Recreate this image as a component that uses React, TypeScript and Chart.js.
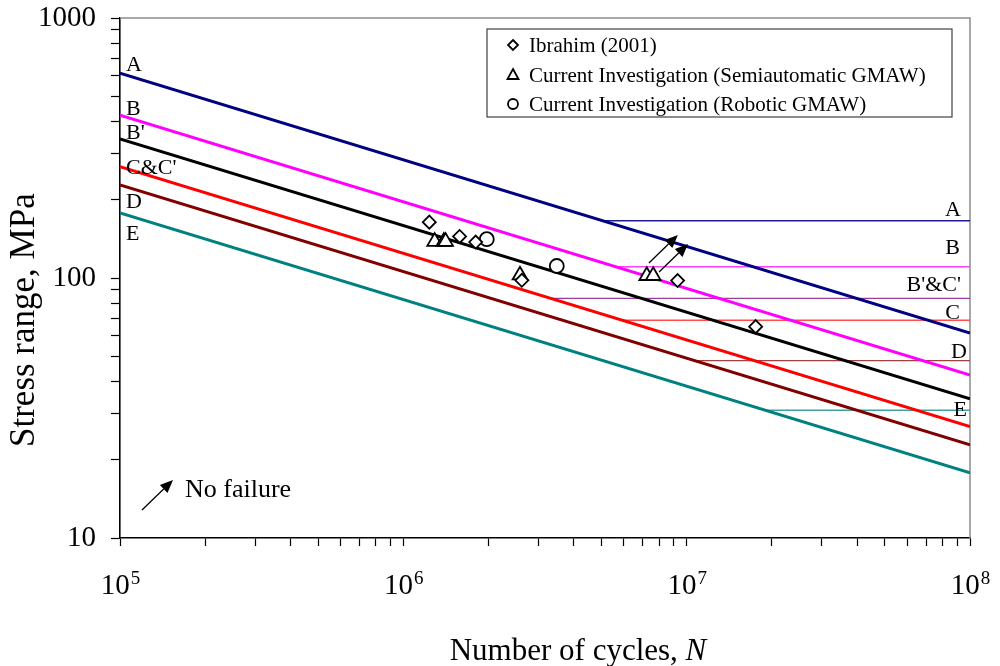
import React, { useEffect, useRef } from 'react';
import { Chart, registerables } from 'chart.js';

Chart.register(...registerables);

const FONT = '"Liberation Serif", "Times New Roman", serif';

// Design curves: stress range (MPa) at N = 1e5 and at N = 1e8
const curveNames = ['A', 'B', "B'", "C&C'", 'D', 'E'];
const curveStartN = 1e5;
const curveEndN = 1e8;
const curveStartS = [614, 423, 343, 268, 228, 178];
const curveEndS = [61.4, 42.3, 34.3, 26.8, 22.8, 17.8];
const curveColors = ['#000080', '#ff00ff', '#000000', '#ff0000', '#800000', '#008080'];

// Constant amplitude fatigue thresholds
const thresholdNames = ['A', 'B', "B'&C'", 'C', 'D', 'E'];
const thresholdStartN = [5.05e6, 5.7e6, 3.3e6, 5.9e6, 1.08e7, 1.9e7];
const thresholdS = [166, 110.5, 83.5, 68.8, 48.1, 31];
const thresholdColors = ['#1c1c8c', '#ff40ff', '#9c3c9c', '#ff4c4c', '#a04040', '#40a0a0'];

// Test data
const ibrahimN = [1.235e6, 1.58e6, 1.8e6, 2.62e6, 9.29e6, 1.752e7];
const ibrahimS = [164, 144.5, 137.5, 98, 97.8, 65];
const semiN = [1.29e6, 1.39e6, 1.41e6, 2.58e6, 7.23e6, 7.62e6];
const semiS = [138, 138, 138, 102.5, 102, 102];
const roboticN = [1.97e6, 3.48e6];
const roboticS = [141, 111.2];

// Run-out (no failure) arrows
const arrowFromN = [7.36e6, 7.99e6];
const arrowFromS = [114.2, 105.4];
const arrowToN = [9.31e6, 1.011e7];
const arrowToS = [146.3, 135.1];

// Axes
const xMajorTicks = [1e5, 1e6, 1e7, 1e8];
const xTickExponents = ['5', '6', '7', '8'];
const yMajorTicks = [10, 100, 1000];
const yTickLabels = ['10', '100', '1000'];

const legendLabels = [
  'Ibrahim (2001)',
  'Current Investigation (Semiautomatic GMAW)',
  'Current Investigation (Robotic GMAW)',
];

function withMinors(majors: number[]) {
  const out: number[] = [];
  for (let i = 0; i < majors.length; i++) {
    out.push(majors[i]);
    if (i < majors.length - 1) {
      for (let k = 2; k <= 9; k++) out.push(majors[i] * k);
    }
  }
  return out;
}

function drawArrow(ctx: CanvasRenderingContext2D, x1: number, y1: number, x2: number, y2: number, head: number, half: number, lw: number) {
  const ang = Math.atan2(y2 - y1, x2 - x1);
  const bx = x2 - Math.cos(ang) * head;
  const by = y2 - Math.sin(ang) * head;
  ctx.lineWidth = lw;
  ctx.strokeStyle = '#000';
  ctx.fillStyle = '#000';
  ctx.beginPath();
  ctx.moveTo(x1, y1);
  ctx.lineTo(bx, by);
  ctx.stroke();
  ctx.beginPath();
  ctx.moveTo(x2, y2);
  ctx.lineTo(bx + Math.sin(ang) * half, by - Math.cos(ang) * half);
  ctx.lineTo(bx - Math.sin(ang) * half, by + Math.cos(ang) * half);
  ctx.closePath();
  ctx.fill();
}

const leftLabelDy = [-2, 0, 0, 7, 23, 27];
const rightLabelDx = [9, 10, 9, 10, 3, 3];
const rightLabelDy = [-5, -12.5, -7, -1.5, -2.5, 6];

const annotPlugin = {
  id: 'annot',
  beforeDatasetsDraw(chart: any) {
    const { ctx, chartArea: ca } = chart;
    ctx.save();
    ctx.strokeStyle = '#8c8c8c';
    ctx.lineWidth = 1.5;
    ctx.beginPath();
    ctx.moveTo(ca.left, ca.top);
    ctx.lineTo(ca.right, ca.top);
    ctx.lineTo(ca.right, ca.bottom);
    ctx.stroke();
    ctx.restore();
  },
  afterDatasetsDraw(chart: any) {
    const { ctx, chartArea: ca, scales } = chart;
    const xs = scales.x;
    const ys = scales.y;
    ctx.save();
    ctx.fillStyle = '#000';

    // curve labels at left
    ctx.font = `22px ${FONT}`;
    ctx.textBaseline = 'alphabetic';
    ctx.textAlign = 'left';
    curveNames.forEach((n, i) => {
      const px = xs.getPixelForValue(curveStartN) + 6;
      const py = ys.getPixelForValue(curveStartS[i]) + leftLabelDy[i];
      ctx.fillText(n, px, py);
    });
    // threshold labels at right
    ctx.textAlign = 'right';
    thresholdNames.forEach((n, i) => {
      const px = ca.right - rightLabelDx[i];
      const py = ys.getPixelForValue(thresholdS[i]) + rightLabelDy[i];
      ctx.fillText(n, px, py);
    });

    // run-out arrows
    for (let i = 0; i < arrowFromN.length; i++) {
      drawArrow(
        ctx,
        xs.getPixelForValue(arrowFromN[i]), ys.getPixelForValue(arrowFromS[i]),
        xs.getPixelForValue(arrowToN[i]), ys.getPixelForValue(arrowToS[i]),
        13, 5.5, 1.3
      );
    }

    // "No failure" key
    drawArrow(ctx, ca.left + 22, ca.bottom - 28, ca.left + 53, ca.bottom - 58, 13, 5.5, 1.3);
    ctx.font = `26px ${FONT}`;
    ctx.textAlign = 'left';
    ctx.fillText('No failure', ca.left + 65, ca.bottom - 41);

    // legend box
    const lx = 487, ly = 29, lw = 465, lh = 88;
    ctx.fillStyle = '#fff';
    ctx.fillRect(lx, ly, lw, lh);
    ctx.strokeStyle = '#404040';
    ctx.lineWidth = 1.2;
    ctx.strokeRect(lx, ly, lw, lh);
    const rowBase = [52, 82, 111];
    ctx.font = `21px ${FONT}`;
    ctx.textAlign = 'left';
    legendLabels.forEach((t, i) => {
      const mx = 513;
      const my = rowBase[i] - 7;
      ctx.strokeStyle = '#000';
      ctx.lineWidth = 1.8;
      ctx.beginPath();
      if (i === 0) {
        ctx.moveTo(mx, my - 5); ctx.lineTo(mx + 5, my); ctx.lineTo(mx, my + 5); ctx.lineTo(mx - 5, my); ctx.closePath();
      } else if (i === 1) {
        ctx.moveTo(mx, my - 6); ctx.lineTo(mx + 5.5, my + 4); ctx.lineTo(mx - 5.5, my + 4); ctx.closePath();
      } else {
        ctx.arc(mx, my, 5, 0, Math.PI * 2);
      }
      ctx.stroke();
      ctx.fillStyle = '#000';
      ctx.fillText(t, 529, rowBase[i]);
    });

    // x tick labels with superscript exponents
    xMajorTicks.forEach((v, i) => {
      const px = xs.getPixelForValue(v);
      ctx.font = `29px ${FONT}`;
      const w1 = ctx.measureText('10').width;
      ctx.font = `19px ${FONT}`;
      const w2 = ctx.measureText(xTickExponents[i]).width;
      const start = px - (w1 + w2) / 2;
      ctx.font = `29px ${FONT}`;
      ctx.fillText('10', start, 594);
      ctx.font = `19px ${FONT}`;
      ctx.fillText(xTickExponents[i], start + w1 + 1, 584);
    });

    // axis titles
    ctx.font = `31px ${FONT}`;
    const t1 = 'Number of cycles, ';
    const w1 = ctx.measureText(t1).width;
    ctx.font = `italic 31px ${FONT}`;
    const w2 = ctx.measureText('N').width;
    const cx = 578;
    ctx.font = `31px ${FONT}`;
    ctx.fillText(t1, cx - (w1 + w2) / 2, 660);
    ctx.font = `italic 31px ${FONT}`;
    ctx.fillText('N', cx - (w1 + w2) / 2 + w1, 660);

    ctx.save();
    ctx.translate(34, 447);
    ctx.rotate(-Math.PI / 2);
    ctx.font = `35px ${FONT}`;
    ctx.textAlign = 'left';
    ctx.fillText('Stress range, MPa', 0, 0);
    ctx.restore();

    ctx.restore();
  },
};

export default function App() {
  const ref = useRef<HTMLCanvasElement>(null);
  useEffect(() => {
    if (!ref.current) return;
    const markerBase = { borderColor: '#000', backgroundColor: '#fff', borderWidth: 1.8, showLine: false };
    const datasets: any[] = [
      { ...markerBase, label: legendLabels[0], data: ibrahimN.map((n, i) => ({ x: n, y: ibrahimS[i] })), pointStyle: 'rectRot', pointRadius: 6.5 },
      { ...markerBase, label: legendLabels[1], data: semiN.map((n, i) => ({ x: n, y: semiS[i] })), pointStyle: 'triangle', pointRadius: 8.5 },
      { ...markerBase, label: legendLabels[2], data: roboticN.map((n, i) => ({ x: n, y: roboticS[i] })), pointStyle: 'circle', pointRadius: 7 },
    ];
    curveNames.forEach((n, i) => {
      datasets.push({
        label: n,
        data: [{ x: curveStartN, y: curveStartS[i] }, { x: curveEndN, y: curveEndS[i] }],
        showLine: true, borderColor: curveColors[i], borderWidth: 3, pointRadius: 0, fill: false,
      });
    });
    thresholdNames.forEach((n, i) => {
      datasets.push({
        label: 'CAFL ' + n,
        data: [{ x: thresholdStartN[i], y: thresholdS[i] }, { x: curveEndN, y: thresholdS[i] }],
        showLine: true, borderColor: thresholdColors[i], borderWidth: 1.3, pointRadius: 0, fill: false,
      });
    });

    const chart = new Chart(ref.current, {
      type: 'scatter',
      data: { datasets },
      options: {
        animation: false,
        responsive: false,
        devicePixelRatio: 1,
        layout: { padding: { top: 18, right: 30, left: 0, bottom: 0 } },
        plugins: { legend: { display: false }, tooltip: { enabled: false } },
        scales: {
          x: {
            type: 'logarithmic',
            min: 1e5,
            max: 1e8,
            position: 'bottom',
            afterBuildTicks: (s: any) => { s.ticks = withMinors(xMajorTicks).map((v) => ({ value: v })); },
            afterFit: (s: any) => { s.height = 128; s.paddingLeft = 0; s.paddingRight = 0; s.paddingTop = 0; s.paddingBottom = 0; },
            ticks: { display: false },
            grid: { drawOnChartArea: false, drawTicks: true, tickLength: 8, tickColor: '#000', tickWidth: 1.2 },
            border: { color: '#000', width: 1.6 },
          },
          y: {
            type: 'logarithmic',
            min: 10,
            max: 1000,
            position: 'left',
            afterBuildTicks: (s: any) => { s.ticks = withMinors(yMajorTicks).map((v) => ({ value: v })); },
            afterFit: (s: any) => { s.width = 120; s.paddingTop = 0; s.paddingBottom = 0; s.paddingLeft = 0; s.paddingRight = 0; },
            ticks: {
              autoSkip: false,
              color: '#000',
              padding: 15,
              font: { family: FONT, size: 29 },
              callback: (v: any) => {
                const i = yMajorTicks.indexOf(Number(v));
                return i >= 0 ? yTickLabels[i] : '';
              },
            },
            grid: { drawOnChartArea: false, drawTicks: true, tickLength: 9, tickColor: '#000', tickWidth: 1.2 },
            border: { color: '#000', width: 1.6 },
          },
        },
      },
      plugins: [annotPlugin],
    } as any);
    return () => chart.destroy();
  }, []);

  return (
    <div style={{ position: 'fixed', left: 0, top: 0, width: 1000, height: 666, background: '#fff' }}>
      <canvas ref={ref} width={1000} height={666} style={{ display: 'block', width: 1000, height: 666 }} />
    </div>
  );
}
